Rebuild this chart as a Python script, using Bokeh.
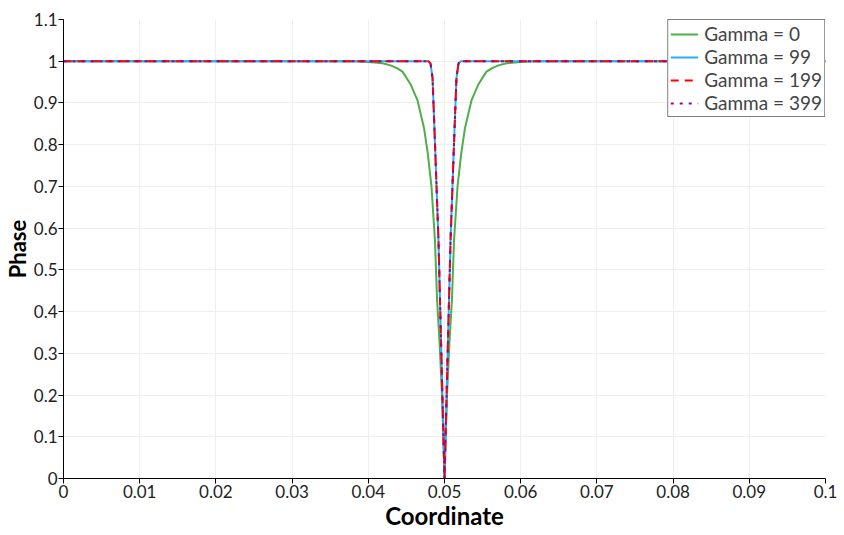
from bokeh.plotting import figure
from bokeh.models import FixedTicker, Legend, LegendItem
from bokeh.embed import file_html
from bokeh.resources import INLINE

# ---- data ----
x_g0 = [0.0, 0.03819, 0.03950, 0.04081, 0.04186, 0.04291, 0.04370, 0.04449,
        0.04554, 0.04646, 0.04731, 0.04780,
        0.04829, 0.04875, 0.04902, 0.04934, 0.04967, 0.05,
        0.05033, 0.05066, 0.05098, 0.05125, 0.05171, 0.05220, 0.05269, 0.05354,
        0.05446, 0.05551, 0.05630, 0.05709, 0.05814, 0.05919, 0.06050, 0.06181, 0.1]
y_g0 = [1.0, 1.0, 0.999, 0.997, 0.995, 0.99, 0.984, 0.975,
        0.945, 0.906, 0.84, 0.78,
        0.70, 0.57, 0.43, 0.33, 0.2, 0.0,
        0.2, 0.33, 0.43, 0.57, 0.70, 0.78, 0.84, 0.906,
        0.945, 0.975, 0.984, 0.99, 0.995, 0.997, 0.999, 1.0, 1.0]

x_g99 = [0.0, 0.04786, 0.04816, 0.04843, 0.04869, 0.04921, 0.04961, 0.05,
         0.05039, 0.05079, 0.05131, 0.05157, 0.05184, 0.05214, 0.1]
y_g99 = [1.0, 1.0, 0.995, 0.96, 0.834, 0.57, 0.283, 0.0,
         0.283, 0.57, 0.834, 0.96, 0.995, 1.0, 1.0]

x_g199 = [0.0, 0.04786, 0.04816, 0.04843, 0.04869, 0.04921, 0.04961, 0.05,
          0.05039, 0.05079, 0.05131, 0.05157, 0.05184, 0.05214, 0.1]
y_g199 = [1.0, 1.0, 0.995, 0.96, 0.834, 0.57, 0.283, 0.0,
          0.283, 0.57, 0.834, 0.96, 0.995, 1.0, 1.0]

x_g399 = [0.0, 0.04786, 0.04816, 0.04843, 0.04869, 0.04921, 0.04961, 0.05,
          0.05039, 0.05079, 0.05131, 0.05157, 0.05184, 0.05214, 0.1]
y_g399 = [1.0, 1.0, 0.995, 0.96, 0.834, 0.57, 0.283, 0.0,
          0.283, 0.57, 0.834, 0.96, 0.995, 1.0, 1.0]

series_names = ["Gamma = 0", "Gamma = 99", "Gamma = 199", "Gamma = 399"]

x_ticks = [0.0, 0.01, 0.02, 0.03, 0.04, 0.05, 0.06, 0.07, 0.08, 0.09, 0.1]
x_tick_labels = ["0", "0.01", "0.02", "0.03", "0.04", "0.05", "0.06", "0.07", "0.08", "0.09", "0.1"]
y_ticks = [0.0, 0.1, 0.2, 0.3, 0.4, 0.5, 0.6, 0.7, 0.8, 0.9, 1.0, 1.1]
y_tick_labels = ["0", "0.1", "0.2", "0.3", "0.4", "0.5", "0.6", "0.7", "0.8", "0.9", "1", "1.1"]

FONT = "Lato"

p = figure(frame_width=762, frame_height=459, x_range=(0, 0.1), y_range=(0, 1.1),
           output_backend="svg", toolbar_location=None,
           min_border_left=62, min_border_right=18, min_border_top=19, min_border_bottom=57)
p.outline_line_color = None
p.background_fill_color = "white"

for ax, ticks, labels in ((p.xaxis[0], x_ticks, x_tick_labels), (p.yaxis[0], y_ticks, y_tick_labels)):
    ax.ticker = FixedTicker(ticks=ticks)
    ax.major_label_overrides = {t: l for t, l in zip(ticks, labels)}
    ax.minor_tick_line_color = None
    ax.major_tick_in = 0
    ax.major_tick_out = 5
    ax.axis_line_color = "black"
    ax.major_tick_line_color = "black"
    ax.major_label_text_font = FONT
    ax.major_label_text_font_size = "17px"
    ax.major_label_text_color = "#222222"
    ax.axis_label_text_font = FONT
    ax.axis_label_text_font_style = "bold"
    ax.axis_label_text_color = "black"
    ax.major_label_standoff = 1

p.xaxis.axis_label = "Coordinate"
p.yaxis.axis_label = "Phase"
p.xaxis.axis_label_text_font_size = "24px"
p.yaxis.axis_label_text_font_size = "22px"
p.xaxis.axis_label_standoff = 0
p.yaxis.axis_label_standoff = 0

p.grid.grid_line_color = "#eeeeee"
p.grid.grid_line_width = 1
p.xgrid.ticker = FixedTicker(ticks=x_ticks)
p.ygrid.ticker = FixedTicker(ticks=y_ticks)

r0 = p.line(x_g0, y_g0, line_color="#4daf4a", line_width=2)
r1 = p.line(x_g99, y_g99, line_color="#1eb1ff", line_width=2)
r2 = p.line(x_g199, y_g199, line_color="#ff0000", line_width=2, line_dash="8 6")
r3 = p.line(x_g399, y_g399, line_color="#a0008c", line_width=2, line_dash="3 6")

legend = Legend(items=[LegendItem(label=n, renderers=[r]) for n, r in zip(series_names, [r0, r1, r2, r3])],
                location="top_right")
legend.margin = 0
legend.padding = 2
legend.spacing = 0
legend.border_line_color = "black"
legend.border_line_width = 1
legend.background_fill_alpha = 1.0
legend.label_text_font = FONT
legend.label_text_font_size = "19px"
legend.label_height = 18
legend.glyph_width = 28
legend.glyph_height = 18
legend.label_standoff = 6
p.add_layout(legend)

open("out.html", "w").write(file_html(p, INLINE))
